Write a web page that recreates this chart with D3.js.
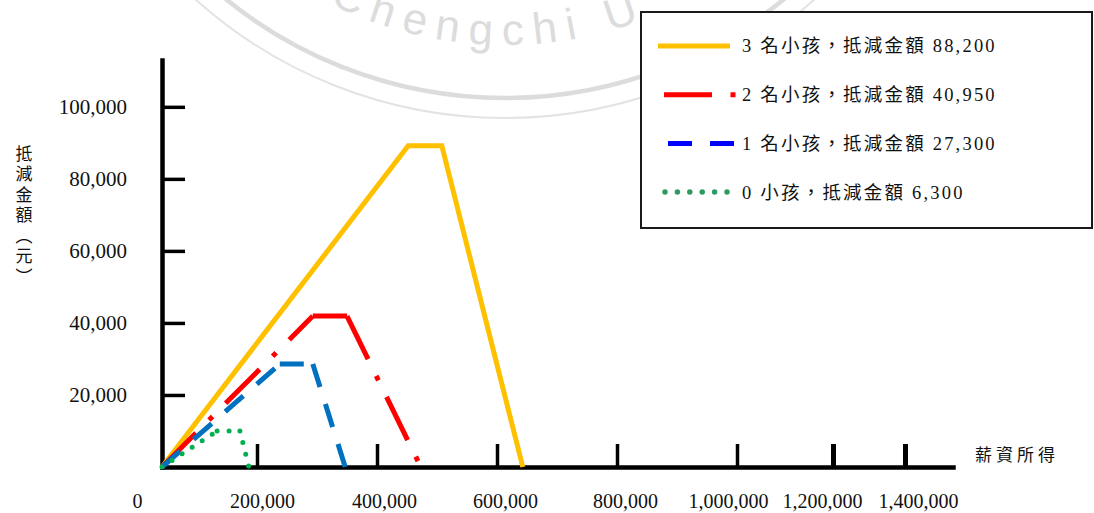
<!DOCTYPE html>
<html lang='zh-Hant'>
	<head>
		<meta charset='utf-8'>
		<title>薪資所得與抵減金額</title>
		<script type='text/javascript' src='https://cdn.jsdelivr.net/npm/d3@7/dist/d3.min.js'></script>
		<style>
			body { margin: 0; background: #fff; }
		</style>
	</head>
	<body>
		<script type='text/javascript'>
			// series: income (x) and credit (y) at each corner
			var seriesNames = ['3 名小孩，抵減金額 88,200', '2 名小孩，抵減金額 40,950', '1 名小孩，抵減金額 27,300', '0 小孩，抵減金額 6,300'];
			var incomeThree = [0, 452000, 508000, 643000], creditThree = [0, 89200, 89200, 0];
			var incomeTwo = [0, 293000, 350000, 473000], creditTwo = [0, 41900, 41900, 0];
			var incomeOne = [0, 238000, 293000, 347000], creditOne = [0, 28600, 28600, 0];
			var incomeZero = [0, 116000, 164000, 183000], creditZero = [0, 10000, 10000, 0];
			var xTicks = [0, 200000, 400000, 600000, 800000, 1000000, 1200000, 1400000];
			var yTicks = [20000, 40000, 60000, 80000, 100000];
			var xLabel = '薪資所得', yLabel = '抵減金額（元）', sealText = 'Chengchi U';

			{
				var width = 1094, height = 513;
				var svg = d3.select('body').append('svg').attr('width', width).attr('height', height)
				var serif = "'Liberation Serif', 'Times New Roman', serif";
				var cjk = "'Liberation Serif', 'Noto Sans CJK TC', serif";

				// uneven tick spacing in the original, so a piecewise scale
				var x = d3.scaleLinear()
					.domain([0, 200000, 400000, 600000, 800000, 1000000, 1200000, 1400000, 1520000])
					.range([162, 257, 377, 497, 617, 737, 833, 905, 953]);
				var y = d3.scaleLinear().domain([0, 113000]).range([467, 60]);

				// faint seal watermark
				var seal = svg.append('g').attr('fill', 'none');
				seal.append('circle').attr('cx', 505).attr('cy', -345).attr('r', 443).attr('stroke', '#dcdcdc').attr('stroke-width', 4.5)
				seal.append('circle').attr('cx', 505).attr('cy', -345).attr('r', 463).attr('stroke', '#e3e3e3').attr('stroke-width', 2)
				seal.append('path').attr('id', 'sealArc').attr('d', 'M115,-345 A390,390 0 0 0 895,-345')
				seal.append('text').attr('font-family', "'Liberation Sans', Arial, sans-serif").attr('font-size', 44)
					.attr('letter-spacing', 10).attr('fill', '#dcdcdc')
					.append('textPath').attr('href', '#sealArc').attr('startOffset', 430).text(sealText)

				// axes
				var fmt = d3.format(',');
				var gx = svg.append('g').attr('transform', 'translate(0,467)')
					.call(d3.axisBottom(x).tickValues(xTicks).tickSizeInner(-23).tickSizeOuter(0).tickPadding(27).tickFormat(fmt))
				var gy = svg.append('g').attr('transform', 'translate(162,0)')
					.call(d3.axisLeft(y).tickValues(yTicks).tickSizeInner(-23).tickSizeOuter(0).tickPadding(35).tickFormat(fmt))
				;[gx, gy].forEach(function(g) {
					g.select('.domain').attr('stroke', '#000').attr('stroke-width', 4.5).attr('stroke-linecap', 'square')
					g.selectAll('.tick line').attr('stroke', '#000').attr('stroke-width', 3.5)
					g.selectAll('.tick text').attr('font-family', serif).attr('fill', '#111')
				})
				gx.selectAll('.tick text').attr('font-size', 20)
				gy.selectAll('.tick text').attr('font-size', 21)
				gx.selectAll('.tick').filter(d => d === 0).select('line').remove()
				// labels in the original sit a little off their ticks
				var labelShift = [-25, 5, 7, 8, 8, -9, -11, 13];
				gx.selectAll('.tick text').attr('dx', (d, i) => labelShift[i])
				gx.selectAll('.tick').filter(d => d >= 1200000).select('line').attr('stroke-width', 5)

				svg.append('text').attr('x', 975).attr('y', 455).attr('dy', '0.35em')
					.attr('font-family', cjk).attr('font-size', 17).attr('letter-spacing', 4).attr('fill', '#111').text(xLabel)
				svg.append('text').attr('x', 22).attr('y', 145)
					.style('writing-mode', 'vertical-rl')
					.attr('font-family', cjk).attr('font-size', 17).attr('letter-spacing', 3.5).attr('fill', '#111').text(yLabel)

				// series lines; the dash pattern restarts at every corner, as in the original
				var series = [
					{ income: incomeThree, credit: creditThree, color: '#ffc000', legendColor: '#ffc000', dash: null, cap: 'butt', lx: [658, 730] },
					{ income: incomeTwo, credit: creditTwo, color: '#ff0000', legendColor: '#ff0000', dash: '48 18.5 5 18.5', cap: 'butt', lx: [664, 736] },
					{ income: incomeOne, credit: creditOne, color: '#0070c0', legendColor: '#0000ff', dash: '24 18', cap: 'butt', lx: [668, 734] },
					{ income: incomeZero, credit: creditZero, color: '#00b050', legendColor: '#2e9a62', dash: '0 12', cap: 'round', lx: [665, 727] }
				];
				series.forEach(function(s, i) {
					var pts = s.income.map((v, j) => [v, s.credit[j]]);
					if (!s.dash) {
						svg.append('path').datum(pts)
							.attr('d', d3.line().x(d => x(d[0])).y(d => y(d[1])))
							.attr('fill', 'none').attr('stroke', s.color).attr('stroke-width', 5).attr('stroke-linejoin', 'miter')
					} else {
						svg.append('g').selectAll('line').data(d3.pairs(pts)).enter().append('line')
							.attr('x1', d => x(d[0][0])).attr('y1', d => y(d[0][1]))
							.attr('x2', d => x(d[1][0])).attr('y2', d => y(d[1][1]))
							.attr('stroke', s.color).attr('stroke-width', 5)
							.attr('stroke-dasharray', s.dash).attr('stroke-linecap', s.cap)
					}
				})

				// legend
				var legend = svg.append('g');
				legend.append('rect').attr('x', 641).attr('y', 12).attr('width', 451).attr('height', 216)
					.attr('fill', '#fff').attr('stroke', '#1a1a1a').attr('stroke-width', 2)
				var rows = legend.selectAll('g.row').data(series).enter().append('g').attr('class', 'row')
					.attr('transform', (d, i) => 'translate(0,' + (46 + i * 48.7) + ')')
				rows.append('line').attr('x1', d => d.lx[0]).attr('x2', d => d.lx[1]).attr('y1', 0).attr('y2', 0)
					.attr('stroke', d => d.legendColor).attr('stroke-width', d => d.cap === 'round' ? 5.5 : 5)
					.attr('stroke-dasharray', d => d.dash === '0 12' ? '0 12.4' : d.dash).attr('stroke-linecap', d => d.cap)
				rows.append('text').attr('x', 742).attr('y', 0).attr('dy', '0.35em')
					.attr('font-family', cjk).attr('font-size', 18.5).attr('letter-spacing', 2.2).attr('fill', '#111')
					.text((d, i) => seriesNames[i])
			}
		</script>
	</body>
</html>
